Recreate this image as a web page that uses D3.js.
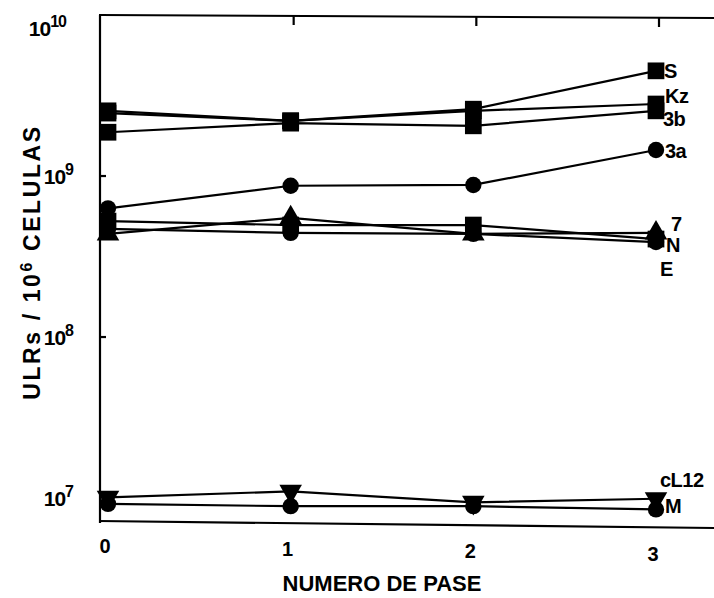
<!DOCTYPE html>
<html><head><meta charset="utf-8">
<script src="https://cdn.jsdelivr.net/npm/d3@7"></script>
<style>body{margin:0;background:#fff} svg{display:block}</style>
</head><body><svg id="c" width="714" height="598"></svg>
<script>
// ---- data ----
const passages = [0, 1, 2, 3];
const xTickLabels = ["0", "1", "2", "3"];
const yTickExponents = [10, 9, 8, 7];
const seriesNames = ["S", "Kz", "3b", "3a", "7", "N", "E", "cL12", "M"];
const seriesMarkers = ["square", "square", "square", "circle", "triangle", "square", "circle", "triangleDown", "circle"];
const valS    = [2.54e9, 2.2e9, 2.6e9, 4.5e9];
const valKz   = [2.46e9, 2.2e9, 2.54e9, 2.8e9];
const val3b   = [1.87e9, 2.13e9, 2.05e9, 2.54e9];
const val3a   = [6.3e8, 8.7e8, 8.8e8, 1.45e9];
const val7    = [4.37e8, 5.5e8, 4.37e8, 4.43e8];
const valN    = [5.25e8, 4.96e8, 4.96e8, 4.06e8];
const valE    = [4.69e8, 4.43e8, 4.37e8, 3.89e8];
const valCL12 = [1.01e7, 1.10e7, 9.4e6, 9.9e6];
const valM    = [9.2e6, 8.9e6, 8.9e6, 8.5e6];
const seriesValues = [valS, valKz, val3b, val3a, val7, valN, valE, valCL12, valM];
const xTitle = "NUMERO DE PASE";

// ---- layout ----
const L = 100, T = 15, B = 523, R = 714;
const labelOffsets = { S:[8,0], Kz:[9,-8], "3b":[7,8], "3a":[9,1], "7":[15,-9], N:[10,6], E:[4,27], cL12:[4,-19], M:[9,-4] };
const sans = "'Liberation Sans',Arial,Helvetica,sans-serif";

const svg = d3.select("#c");
const x = d3.scaleLinear().domain([0, 3]).range([108, 656]);
const y = d3.scaleLog().domain([Math.pow(10, 6.845), Math.pow(10, 10.0)]).range([B, T]);

// frame
svg.append("line").attr("x1", L).attr("x2", L).attr("y1", T).attr("y2", B).attr("stroke", "#000").attr("stroke-width", 2.2);
svg.append("line").attr("x1", L - 1).attr("x2", R).attr("y1", T).attr("y2", T + 3).attr("stroke", "#000").attr("stroke-width", 2.2);
svg.append("line").attr("x1", L - 1).attr("x2", R).attr("y1", B - 2).attr("y2", B + 5).attr("stroke", "#000").attr("stroke-width", 2.2);

// top ticks
svg.append("g").selectAll("line").data(passages.slice(1)).join("line")
  .attr("x1", d => x(d) + 3).attr("x2", d => x(d) + 3)
  .attr("y1", d => T + d).attr("y2", d => T + d + 9)
  .attr("stroke", "#000").attr("stroke-width", 2.2);

// y ticks
svg.append("g").selectAll("line").data(yTickExponents.slice(1, 3)).join("line")
  .attr("x1", L).attr("x2", L + 6)
  .attr("y1", d => y(Math.pow(10, d))).attr("y2", d => y(Math.pow(10, d)))
  .attr("stroke", "#000").attr("stroke-width", 2.2);

// y tick labels
const yl = svg.append("g").attr("font-family", sans).attr("font-weight", "bold").attr("fill", "#000");
yTickExponents.forEach(e => {
  const raw = y(Math.pow(10, e));
  const yy = Math.max(raw, 28);
  const xx = raw < 28 ? L - 34 : L - 27;
  const t = yl.append("text").attr("x", xx).attr("y", yy + 8).attr("text-anchor", "end").attr("font-size", 21).attr("letter-spacing", -1);
  t.append("tspan").text("10");
  t.append("tspan").attr("dy", -9).attr("font-size", 16).text(String(e));
});

// x tick labels
svg.append("g").selectAll("text").data(passages).join("text")
  .attr("x", d => x(d) - 3).attr("y", (d, i) => 553 + i * 2.5)
  .attr("text-anchor", "middle").attr("font-family", sans).attr("font-weight", "bold").attr("font-size", 20)
  .text((d, i) => xTickLabels[i]);

// x title
svg.append("text").attr("x", 382).attr("y", 591).attr("text-anchor", "middle")
  .attr("font-family", sans).attr("font-weight", "bold").attr("font-size", 22).text(xTitle);

// y title
const yt = svg.append("text").attr("transform", "translate(40,262) rotate(-90)").attr("text-anchor", "middle")
  .attr("font-family", sans).attr("font-weight", "bold").attr("font-size", 23).attr("letter-spacing", 2.6);
yt.append("tspan").text("ULRs / 10");
yt.append("tspan").attr("dy", -8).attr("font-size", 16).text("6");
yt.append("tspan").attr("dy", 8).text(" CELULAS");

// series
const line = d3.line().x((d, i) => x(passages[i])).y(d => y(d));
const g = svg.append("g");
seriesValues.forEach((vals, si) => {
  g.append("path").attr("d", line(vals)).attr("fill", "none").attr("stroke", "#000").attr("stroke-width", 2.2);
});
const symMap = { square: d3.symbolSquare, circle: d3.symbolCircle, triangle: d3.symbolTriangle, triangleDown: d3.symbolTriangle };
const sizeMap = { square: 280, circle: 210, triangle: 220, triangleDown: 220 };
seriesValues.forEach((vals, si) => {
  const m = seriesMarkers[si];
  const sym = d3.symbol().type(symMap[m]).size(sizeMap[m]);
  g.append("g").selectAll("path").data(vals).join("path")
    .attr("d", sym)
    .attr("transform", (d, i) => `translate(${x(passages[i])},${y(d)})` + (m === "triangleDown" ? " rotate(180)" : ""))
    .attr("fill", "#000");
});

// series labels
const lab = svg.append("g").attr("font-family", sans).attr("font-weight", "bold").attr("font-size", 20).attr("letter-spacing", -0.5);
seriesNames.forEach((n, si) => {
  const vals = seriesValues[si];
  const o = labelOffsets[n];
  lab.append("text").attr("x", x(passages[3]) + o[0]).attr("y", y(vals[3]) + o[1]).attr("dy", "0.36em").text(n);
});
</script></body></html>
